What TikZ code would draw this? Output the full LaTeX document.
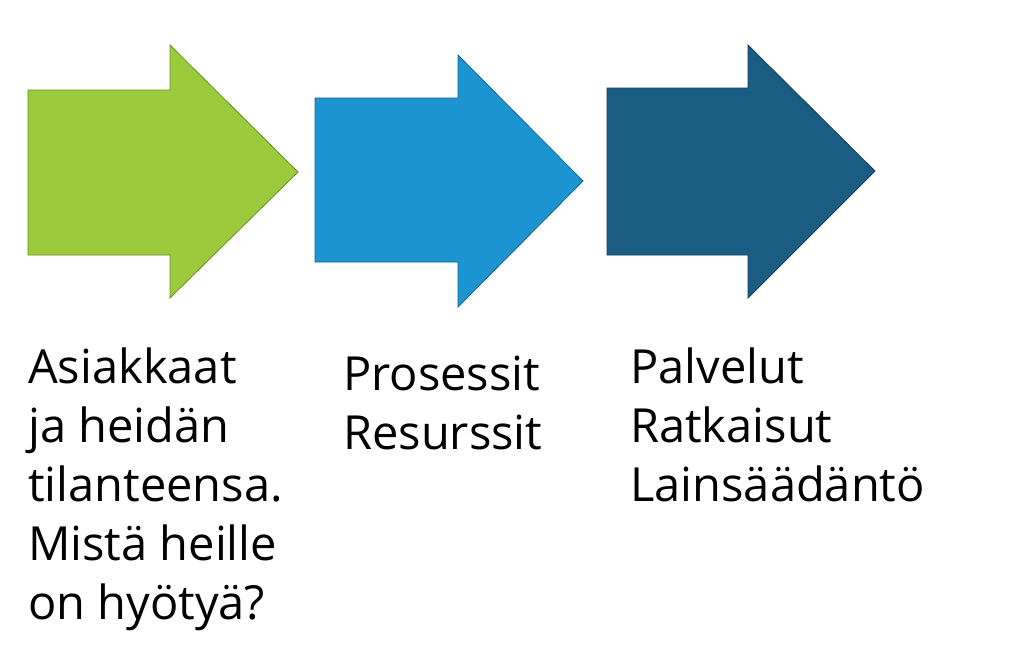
\documentclass[tikz,border=0pt]{standalone}
\usepackage{fontspec}
\setmainfont{Open Sans}
\begin{document}
\begin{tikzpicture}[x=1pt,y=-1pt,
  arr/.style={draw=#1!70!black, line width=0.8pt, fill=#1},
  lbl/.style={anchor=north west, align=left, font=\fontsize{47}{59}\selectfont, inner sep=0pt}]
\definecolor{cg}{HTML}{9BCB3C}
\definecolor{cb}{HTML}{1C94D2}
\definecolor{cd}{HTML}{1B5D82}
\useasboundingbox[fill=white] (0,0) rectangle (1023,649);
\draw[arr=cg] (28,90) -- (170,90) -- (170,45) -- (298,172) -- (170,298) -- (170,255) -- (28,255) -- cycle;
\draw[arr=cb] (315,98) -- (458,98) -- (458,55) -- (583,181) -- (458,307) -- (458,262) -- (315,262) -- cycle;
\draw[arr=cd] (607,88) -- (748,88) -- (748,45) -- (875,171) -- (748,298) -- (748,255) -- (607,255) -- cycle;
\node[lbl] (t1) at (28,348) {Asiakkaat\\ja heidän\\tilanteensa.\\Mistä heille\\on hyötyä?};
\node[lbl] (t2) at (343,356) {Prosessit\\Resurssit};
\node[lbl] (t3) at (630,348) {Palvelut\\Ratkaisut\\Lainsäädäntö};
\end{tikzpicture}
\end{document}
